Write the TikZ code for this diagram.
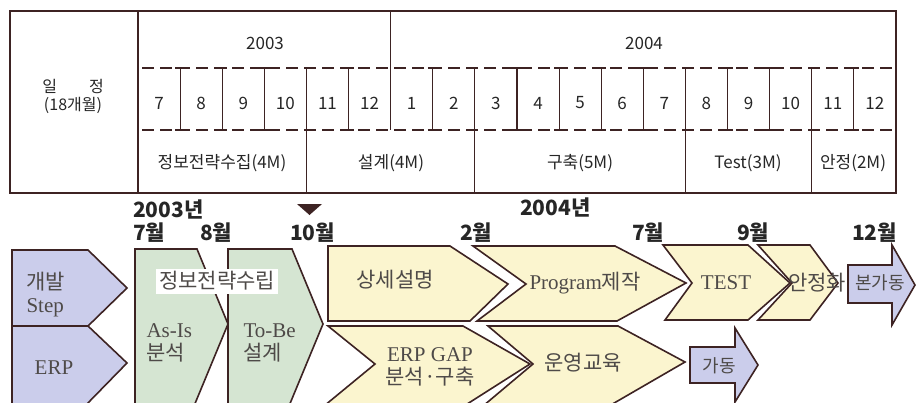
\documentclass[tikz,border=0pt]{standalone}
\usepackage{fontspec}
\setmainfont{Liberation Serif}
\newfontfamily\krsans{Noto Sans CJK KR}
\usepackage{xcolor}
\usetikzlibrary{positioning}

\definecolor{lineb}{HTML}{3D2323}
\definecolor{stepblue}{HTML}{CBCDEB}
\definecolor{phgreen}{HTML}{D5E5D2}
\definecolor{phyellow}{HTML}{FBF5CF}
\definecolor{labgray}{HTML}{4E4A48}
\newcommand{\ko}[1]{{\krsans #1}}

\begin{document}
\begin{tikzpicture}[x=1pt,y=-1pt,
            tbl/.style = {draw=lineb, line width=1.7pt},
            sep/.style = {draw=lineb, line width=1.2pt},
            dsh/.style = {draw=lineb, line width=1.5pt, dash pattern=on 12pt off 6pt},
            cell/.style = {font=\krsans\fontsize{17}{20}\selectfont, text=black!85, align=center},
            chev/.style = {draw=lineb, line width=1.6pt, line join=miter},
            lbl/.style = {font=\fontsize{21}{23}\selectfont, text=labgray, align=center},
            mon/.style = {font=\krsans\bfseries\fontsize{21}{22}\selectfont, text=black!85, anchor=base west, inner sep=0pt}]
            \useasboundingbox (0,0) rectangle (921,402);

            % schedule table
            \draw[tbl] (10,11) rectangle (896,193);
            \draw[tbl] (138,11) -- (138,193);
            \draw[sep] (390.7,11) -- (390.7,130);
            \draw[dsh] (142,68) -- (896,68);
            \draw[dsh] (142,130) -- (896,130);
            \foreach \k in {4,8,13,16}
                \draw[sep] (138+42.11*\k,68) -- (138+42.11*\k,193);
            \foreach \k in {1,2,3,5,7,9,10,11,12,14,15,17}
                \draw[sep] (138+42.11*\k-5,68) -- ++(10,0)
                    (138+42.11*\k,68) -- (138+42.11*\k,130)
                    (138+42.11*\k-5,130) -- ++(10,0);
            \foreach \m [count=\k from 0] in {7,8,9,10,11,12,1,2,3,4,5,6,7,8,9,10,11,12}
                \node[cell] (m\k) at (159+42.11*\k,103) {\m};
            \node[cell] (y2003) at (265,43) {2003};
            \node[cell] (y2004) at (644,43) {2004};
            \node[cell, font=\krsans\fontsize{16}{18}\selectfont] (term) at (73,96) {일\hspace{2em}정\\(18개월)};
            \node[cell] (ph1) at (222,163) {정보전략수집(4M)};
            \node[cell] (ph2) at (391,163) {설계(4M)};
            \node[cell] (ph3) at (580,163) {구축(5M)};
            \node[cell] (ph4) at (748,163) {Test(3M)};
            \node[cell] (ph5) at (853,163) {안정(2M)};

            % time marks
            \node[mon] (t2003) at (133,217) {2003년};
            \node[mon] (t7) at (133,240) {7월};
            \node[mon] (t8) at (200,240) {8월};
            \node[mon] (t10) at (290,240) {10월};
            \node[mon] (t2004) at (520,215) {2004년};
            \node[mon] (t2) at (460,240) {2월};
            \node[mon] (t7b) at (632,240) {7월};
            \node[mon] (t9) at (737,240) {9월};
            \node[mon] (t12) at (852,240) {12월};
            \fill[lineb] (297,204) -- (322,204) -- (309.5,215) -- cycle;

            % steps
            \draw[chev, fill=stepblue] (12,250) -- (88,250) -- (127,288) -- (88,326) -- (12,326) -- cycle;
            \draw[chev, fill=stepblue] (12,326) -- (88,326) -- (127,363) -- (85,406) -- (12,406) -- cycle;
            \node[lbl, align=left, anchor=west] (step) at (23,295) {\ko{개발}\\Step};
            \node[lbl] (erp) at (54,368) {ERP};

            \draw[chev, fill=phgreen] (135,249) -- (197,249) -- (228,324) -- (194,406) -- (135,406) -- cycle;
            \draw[chev, fill=phgreen] (228,249) -- (292,249) -- (323,324) -- (289,406) -- (228,406) -- cycle;
            \node[lbl, fill=white, inner sep=3pt] (isp) at (217,281) {\ko{정보전략수립}};
            \node[lbl, align=left, anchor=west] (asis) at (143,343) {As-Is\\\ko{분석}};
            \node[lbl, align=left, anchor=west] (tobe) at (240,343) {To-Be\\\ko{설계}};

            \draw[chev, fill=phyellow] (328,246) -- (450,246) -- (508,284) -- (470,321) -- (328,321) -- cycle;
            \draw[chev, fill=phyellow] (473,246) -- (615,246) -- (686,283) -- (617,321) -- (477,321) -- (526,284) -- cycle;
            \draw[chev, fill=phyellow] (328,326) -- (463,326) -- (530,364) -- (464,406) -- (324,406) -- (375,364) -- cycle;
            \draw[chev, fill=phyellow] (488,326) -- (618,326) -- (685,362) -- (609,406) -- (483,406) -- (533,364) -- cycle;
            \node[lbl] (design) at (395,280) {\ko{상세설명}};
            \node[lbl] (prog) at (585,283) {Program\ko{제작}};
            \node[lbl] (gap) at (430,367) {ERP GAP\\\ko{분석·구축}};
            \node[lbl] (edu) at (583,363) {\ko{운영교육}};

            \draw[chev, fill=phyellow] (758,245) -- (810,245) -- (838,283) -- (810,320) -- (758,320) -- (792,283) -- cycle;
            \draw[chev, fill=phyellow] (663,245) -- (748,245) -- (790,283) -- (748,320) -- (665,320) -- (692,283) -- cycle;
            \node[lbl] (test) at (726,283) {TEST};
            \node[lbl] (stab) at (817,283) {\ko{안정화}};

            \draw[chev, fill=stepblue] (848,265) -- (892,265) -- (892,245) -- (915,285) -- (892,325) -- (892,303) -- (848,303) -- cycle;
            \draw[chev, fill=stepblue] (690,347) -- (735,347) -- (735,328) -- (758,365) -- (735,402) -- (735,383) -- (690,383) -- cycle;
            \node[lbl, font=\krsans\fontsize{18}{20}\selectfont] (live) at (880,283) {본가동};
            \node[lbl, font=\krsans\fontsize{18}{20}\selectfont] (golive) at (719,366) {가동};
        \end{tikzpicture}
\end{document}
